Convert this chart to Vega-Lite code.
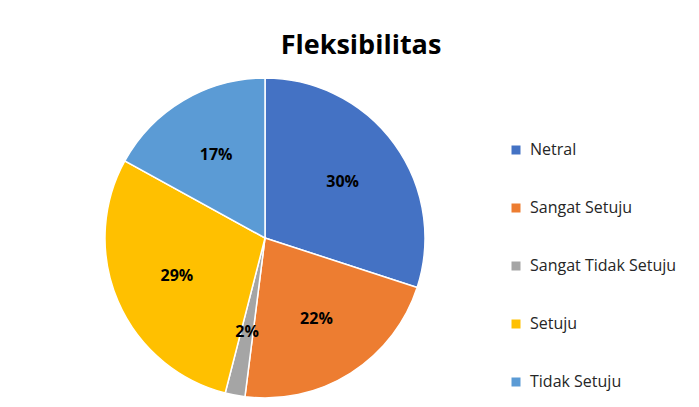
{
  "$schema": "https://vega.github.io/schema/vega-lite/v6.json",
  "autosize": "none",
  "width": 530,
  "height": 338,
  "padding": {"left": 0, "top": 69, "right": 169, "bottom": 0},
  "background": "white",
  "title": {
    "text": "Fleksibilitas",
    "font": "Open Sans",
    "fontSize": 27,
    "fontWeight": "bold",
    "color": "#000000",
    "anchor": "middle",
    "dx": 96,
    "offset": 9
  },
  "data": {
    "values": [
      {"kategori": "Netral", "nilai": 0.30},
      {"kategori": "Sangat Setuju", "nilai": 0.22},
      {"kategori": "Sangat Tidak Setuju", "nilai": 0.02},
      {"kategori": "Setuju", "nilai": 0.29},
      {"kategori": "Tidak Setuju", "nilai": 0.17}
    ]
  },
  "encoding": {
    "theta": {"field": "nilai", "type": "quantitative", "stack": true},
    "order": {"field": "kategori", "type": "nominal"}
  },
  "layer": [
    {
      "mark": {"type": "arc", "outerRadius": 160, "stroke": "white", "strokeWidth": 1.5},
      "encoding": {
        "color": {
          "field": "kategori",
          "type": "nominal",
          "scale": {
            "domain": ["Netral", "Sangat Setuju", "Sangat Tidak Setuju", "Setuju", "Tidak Setuju"],
            "range": ["#4472C4", "#ED7D31", "#A5A5A5", "#FFC000", "#5B9BD5"]
          },
          "legend": {
            "title": null,
            "orient": "none",
            "legendX": 508,
            "legendY": 73,
            "padding": 0,
            "symbolType": "square",
            "symbolSize": 81,
            "symbolStrokeWidth": 0,
            "labelFont": "Open Sans",
            "labelFontSize": 16,
            "labelColor": "#262626",
            "labelOffset": 6,
            "rowPadding": 42
          }
        }
      }
    },
    {
      "mark": {"type": "text", "radius": 96, "font": "Open Sans", "fontSize": 16, "fontWeight": "bold", "fill": "#000000"},
      "encoding": {
        "detail": {"field": "kategori", "type": "nominal"},
        "text": {"field": "nilai", "type": "quantitative", "format": ".0%"}
      }
    }
  ],
  "config": {"view": {"stroke": null}}
}
